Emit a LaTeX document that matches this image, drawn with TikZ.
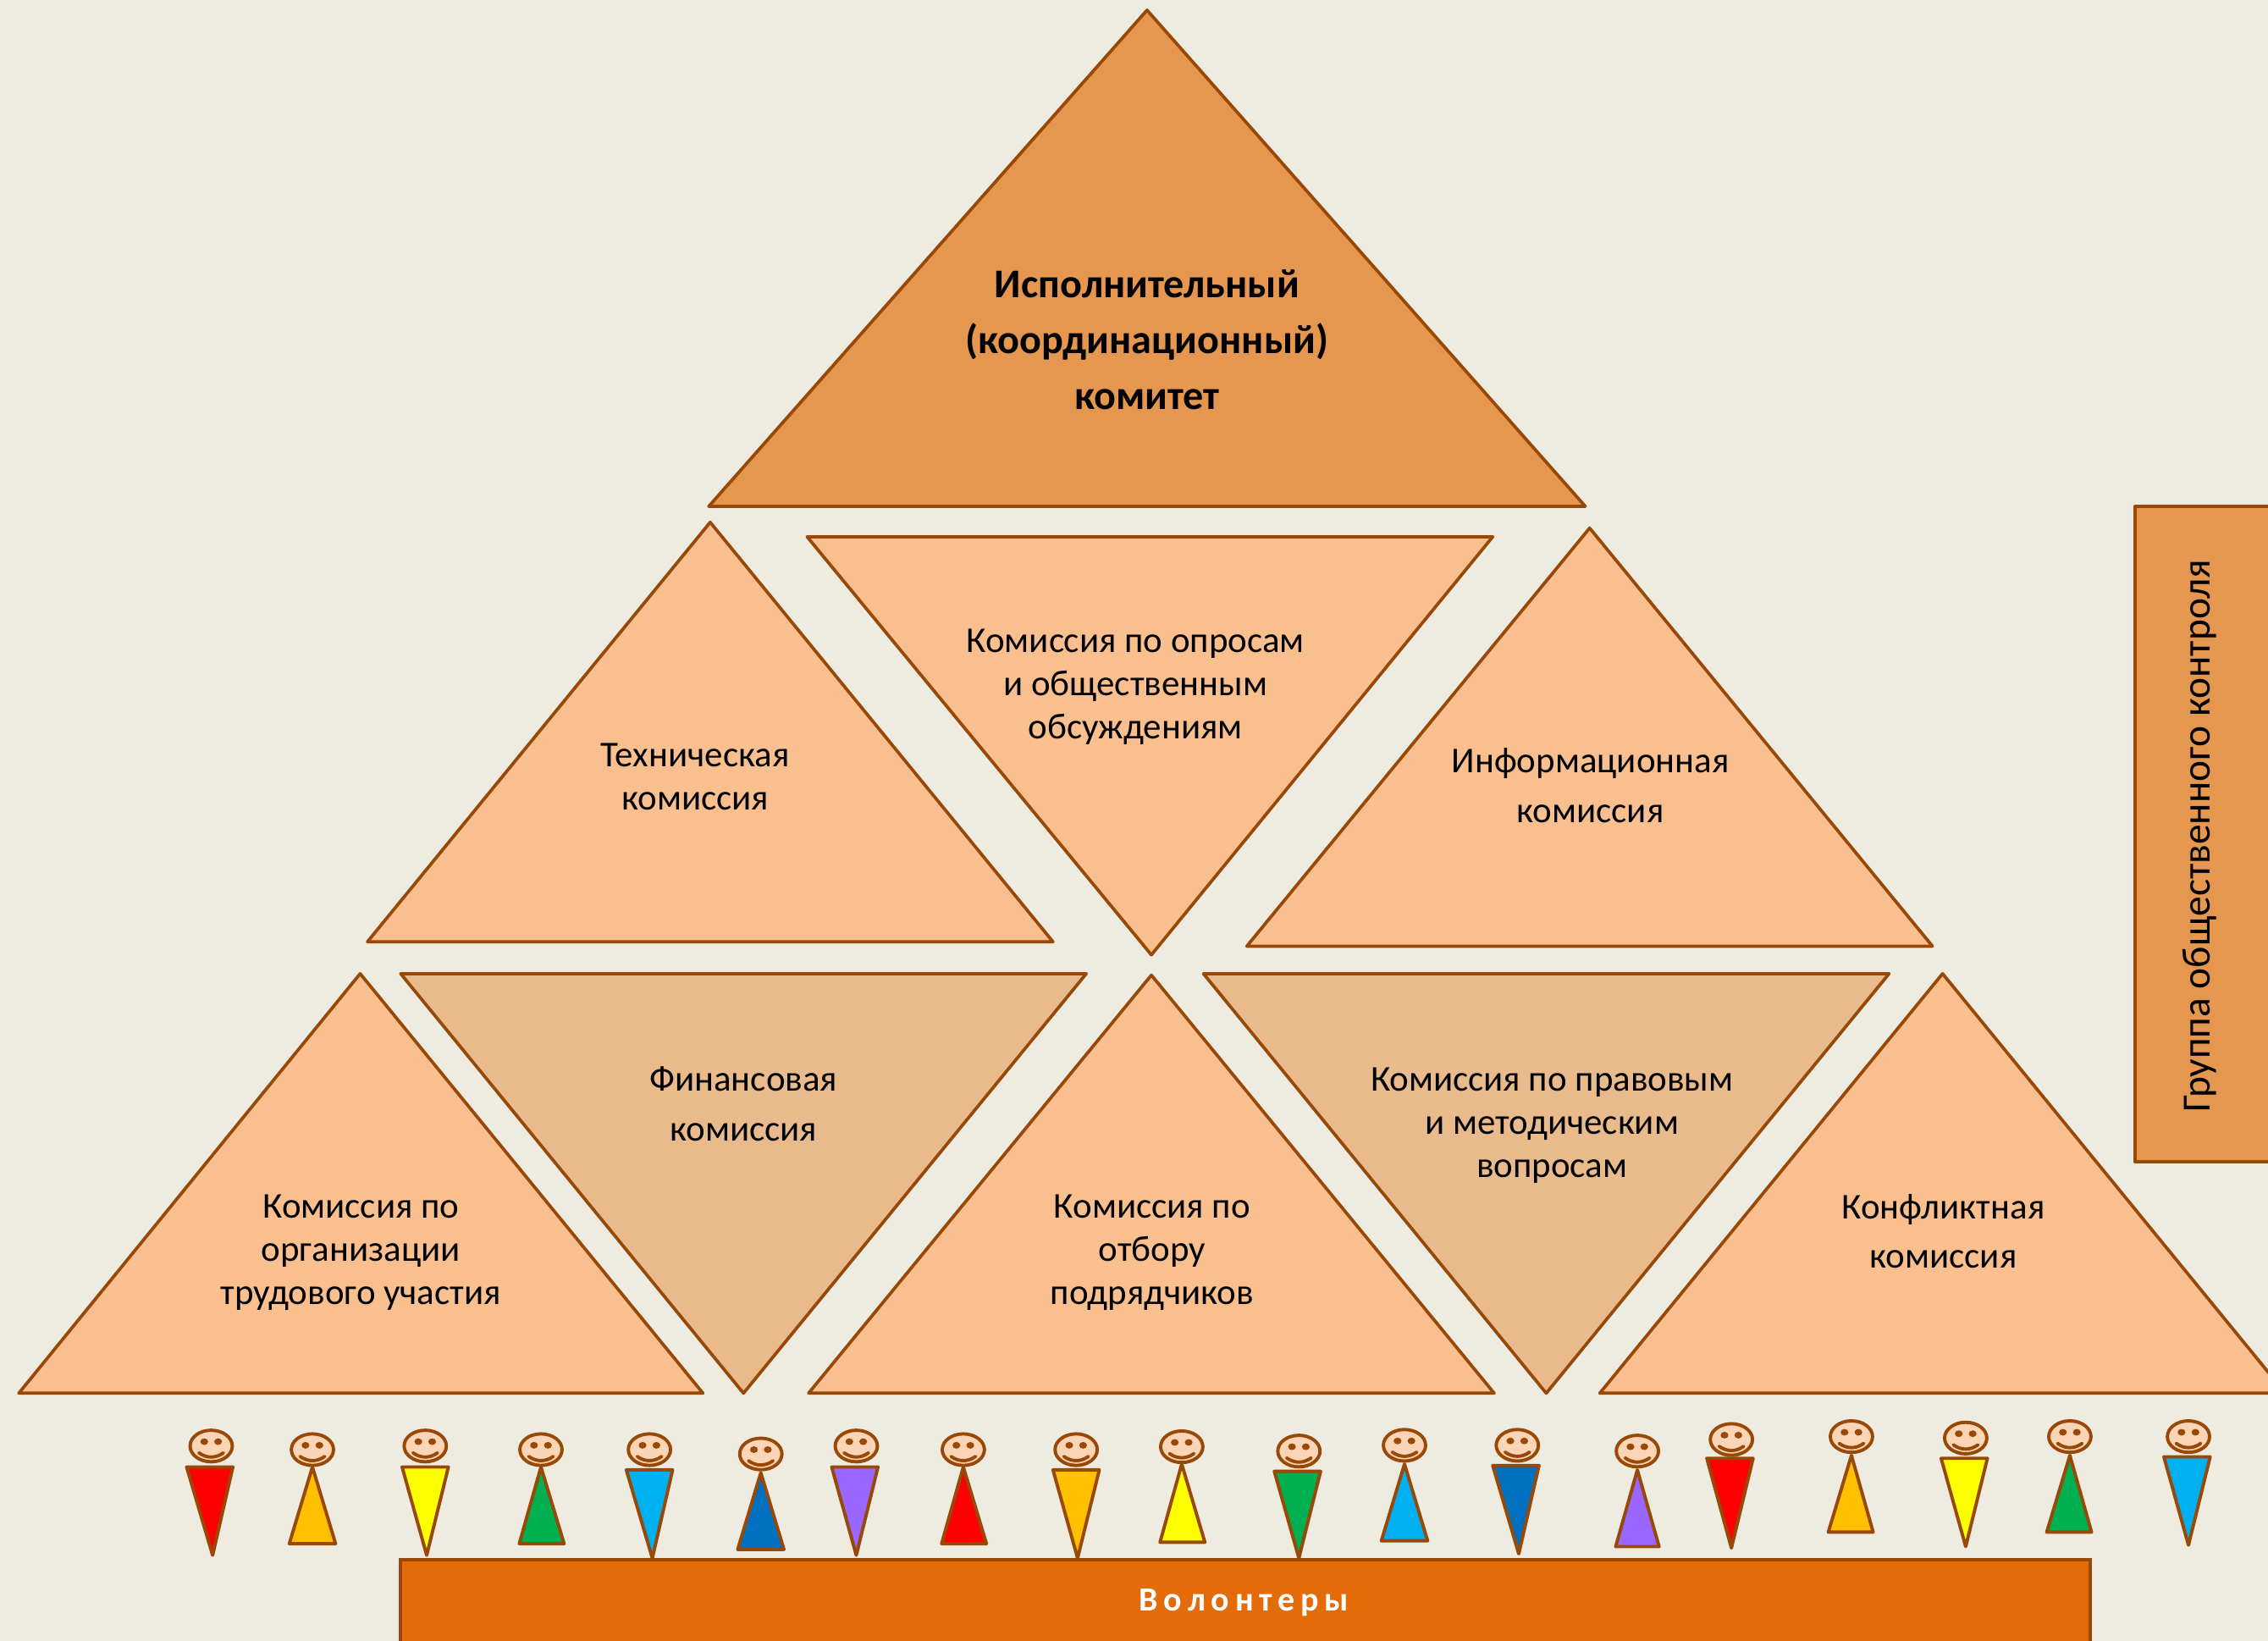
\documentclass[tikz,border=0pt]{standalone}
\usepackage{fontspec}
\setmainfont{Carlito}
\tikzset{
  x=0.02cm,y=-0.02cm,
  every node/.style={inner sep=0pt,align=center,text=black},
  tri/.style={draw=edgeC,line width=1.25pt,line join=round},
  lab/.style={font=\fontsize{14.3}{17}\selectfont},
  labwide/.style={font=\fontsize{14.3}{19.4}\selectfont},
  labbold/.style={font=\bfseries\fontsize{16.05}{22}\selectfont},
  body/.style={draw=edgeC,line width=1.3pt,line join=round},
  headC/.style={draw=edgeC,line width=1.3pt,fill=headF},
}
\definecolor{bgC}{HTML}{EEECE1}
\definecolor{edgeC}{HTML}{984807}
\definecolor{topC}{HTML}{E5964F}
\definecolor{lightC}{HTML}{FABF8F}
\definecolor{tanC}{HTML}{E9BA8B}
\definecolor{barC}{HTML}{E36C09}
\definecolor{headF}{HTML}{FBD5B5}
\definecolor{pR}{HTML}{FF0000}
\definecolor{pO}{HTML}{FFC000}
\definecolor{pY}{HTML}{FFFF00}
\definecolor{pG}{HTML}{00B050}
\definecolor{pC}{HTML}{00B0F0}
\definecolor{pB}{HTML}{0070C0}
\definecolor{pV}{HTML}{9966FF}
\newcommand{\smiley}[2]{%
  \draw[headC] (#1,#2) ellipse[x radius=14.6,y radius=10.9];
  \fill[edgeC] (#1-4.8,#2-3) ellipse[x radius=2.7,y radius=2.3] (#1+4.8,#2-3) ellipse[x radius=2.7,y radius=2.3];
  \draw[edgeC,line width=1.3pt,line cap=round] (#1-8.5,#2+4.7) .. controls (#1-3,#2+8.6) and (#1+3,#2+8.6) .. (#1+8.5,#2+4.7);
}
\newcommand{\dnperson}[7]{% hx hy top xl xr apexx apexy -- colour via \pcol
  \draw[body,fill=\pcol] (#4,#3) -- (#5,#3) -- (#6,#7) -- cycle;
  \smiley{#1}{#2}
}
\newcommand{\upperson}[6]{% hx hy apexy base xl xr
  \draw[body,fill=\pcol] (#1,#3) -- (#6,#4) -- (#5,#4) -- cycle;
  \smiley{#1}{#2}
}
\begin{document}
\begin{tikzpicture}
\useasboundingbox (0,0) rectangle (1568,1134);
\clip (0,0) rectangle (1568,1134);
\fill[bgC] (0,0) rectangle (1568,1134);
% triangles
\draw[tri,fill=topC] (793,7) -- (1096,350) -- (490,350) -- cycle;
\draw[tri,fill=lightC] (491,361) -- (728,651) -- (254,651) -- cycle;
\draw[tri,fill=lightC] (558,371) -- (1032,371) -- (796,660) -- cycle;
\draw[tri,fill=lightC] (1099,365) -- (1336,654) -- (862,654) -- cycle;
\draw[tri,fill=lightC] (249,673) -- (486,963) -- (13,963) -- cycle;
\draw[tri,fill=tanC] (277,673) -- (751,673) -- (514,963) -- cycle;
\draw[tri,fill=lightC] (796,674) -- (1033,963) -- (559,963) -- cycle;
\draw[tri,fill=tanC] (832,673) -- (1306,673) -- (1069,963) -- cycle;
\draw[tri,fill=lightC] (1343,673) -- (1580,963) -- (1106,963) -- cycle;
% labels
\node[labbold] (ispolkom) at (793,235) {Исполнительный\\(координационный)\\комитет};
\node[lab] (tech) at (480.5,537) {Техническая\\комиссия};
\node[lab] (opros) at (785,475) {Комиссия по опросам\\и общественным\\обсуждениям};
\node[labwide] (info) at (1099.5,543) {Информационная\\комиссия};
\node[lab] (org) at (249.5,866) {Комиссия по\\организации\\трудового участия};
\node[labwide] (fin) at (514,763) {Финансовая\\комиссия};
\node[lab] (podr) at (796.5,866) {Комиссия по\\отбору\\подрядчиков};
\node[lab] (prav) at (1073,778) {Комиссия по правовым\\и методическим\\вопросам};
\node[labwide] (konf) at (1343.5,851) {Конфликтная\\комиссия};
% control group
\draw[tri,fill=topC] (1476,350) rectangle (1600,803);
\node[font=\fontsize{15.8}{17}\selectfont,rotate=90] (gruppa) at (1521,578) {Группа общественного контроля};
% people
\def\pcol{pR}\dnperson{146}{999.5}{1014}{129}{161}{147}{1075}
\def\pcol{pO}\upperson{216}{1002}{1014}{1067}{200}{232}
\def\pcol{pY}\dnperson{294}{999.5}{1014}{278}{310}{295}{1075}
\def\pcol{pG}\upperson{374}{1002}{1014}{1067}{359}{390}
\def\pcol{pC}\dnperson{449}{1002}{1016}{433}{465}{451}{1077}
\def\pcol{pB}\upperson{526}{1005}{1018}{1071}{510}{542}
\def\pcol{pV}\dnperson{592}{999.5}{1014}{575}{607}{592}{1075}
\def\pcol{pR}\upperson{666}{1002}{1014}{1067}{651}{682}
\def\pcol{pO}\dnperson{744}{1002}{1016}{728}{760}{745}{1077}
\def\pcol{pY}\upperson{817}{1000}{1012}{1066}{802}{833}
\def\pcol{pG}\dnperson{898}{1003}{1017}{881}{913}{898}{1077}
\def\pcol{pC}\upperson{971}{999}{1012}{1065}{955}{987}
\def\pcol{pB}\dnperson{1049}{999}{1013}{1032}{1064}{1050}{1074}
\def\pcol{pV}\upperson{1132}{1003}{1016}{1069}{1117}{1147}
\def\pcol{pR}\dnperson{1197}{995}{1008}{1180}{1212}{1197}{1070}
\def\pcol{pO}\upperson{1280}{993}{1006}{1059}{1264}{1295}
\def\pcol{pY}\dnperson{1359}{994}{1008}{1342}{1374}{1359}{1069}
\def\pcol{pG}\upperson{1431}{993}{1006}{1059}{1415}{1446}
\def\pcol{pC}\dnperson{1513}{993}{1007}{1496}{1528}{1513}{1068}
% volunteers bar
\draw[draw=edgeC,line width=1.25pt,fill=barC] (277,1078) rectangle (1445,1150);
\node[font=\bfseries\fontsize{13.3}{15}\selectfont\addfontfeature{LetterSpace=17},text=white] (vol) at (860,1108) {Волонтеры};
\end{tikzpicture}
\end{document}
